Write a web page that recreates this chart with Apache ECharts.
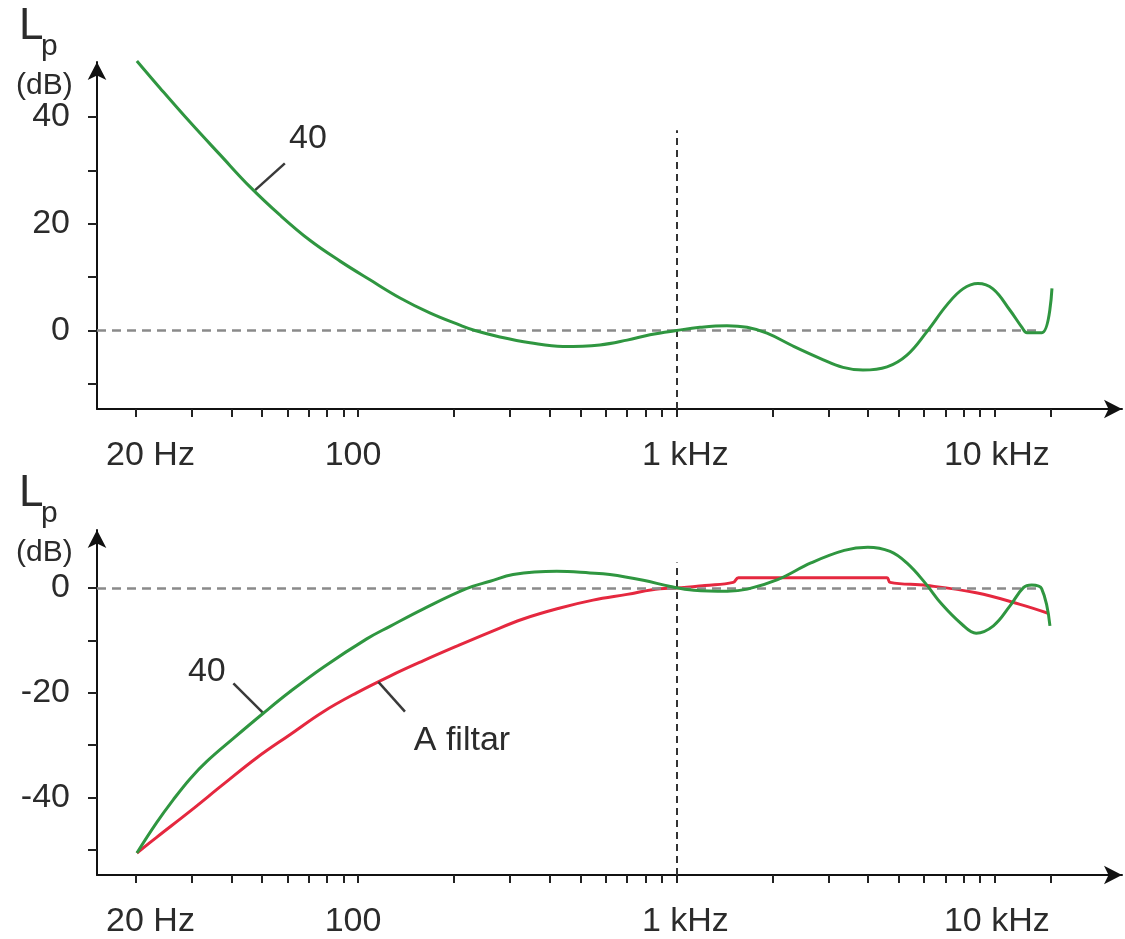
<!DOCTYPE html>
<html>
<head>
<meta charset="utf-8">
<script src="https://cdn.jsdelivr.net/npm/echarts@6/dist/echarts.min.js"></script>
<style>
html,body{margin:0;padding:0;background:#fff;}
#chart{width:1125px;height:939px;}
</style>
</head>
<body>
<div id="chart"></div>
<script>
// ---- data (frequency in Hz, level in dB) ----
const topFreq  = [20.2, 23.9, 29.7, 36.9, 45.8, 56.9, 70.6, 87.8, 109, 135.5, 168, 209, 233, 279, 347, 440, 575, 700, 826, 1000, 1186, 1441, 1666, 1925, 2323, 2824, 3336, 3855, 4586, 5298, 6122, 7075, 7942, 8851, 9866, 11160, 12170, 12620, 14060, 15120];
const topLevel = [50.5, 45.4, 39.0, 32.9, 26.9, 21.6, 16.9, 13.0, 9.5, 6.1, 3.3, 1.0, 0, -1.2, -2.3, -3.0, -2.7, -1.8, -0.8, 0, 0.6, 0.9, 0.6, -0.5, -2.9, -5.2, -6.9, -7.4, -6.8, -4.6, -0.2, 4.8, 7.8, 8.8, 7.8, 3.8, 0.6, -0.4, -0.4, 7.9];

const botFreq  = [20.2, 23.3, 26.3, 29.7, 33.5, 40.6, 50.4, 61.1, 77.8, 106.5, 126, 160, 219, 260, 307, 421, 535, 618, 787, 958, 1134, 1445, 1671, 2078, 2645, 3367, 3990, 4690, 5290, 6040, 6820, 7880, 8740, 9900, 11160, 12300, 13060, 14030, 14900];
const botLevel = [-50.6, -44.8, -40.4, -36.4, -33.1, -28.7, -23.9, -19.8, -15.1, -9.7, -7.3, -4.0, -0.1, 1.3, 2.6, 3.2, 2.9, 2.6, 1.5, 0.3, -0.4, -0.6, -0.2, 1.6, 4.8, 7.2, 7.8, 7.0, 4.8, 1.0, -3.1, -6.9, -8.6, -7.2, -3.4, 0.1, 0.6, -0.1, -7.2];

const aFreq  = [20.2, 23.3, 29.7, 37.7, 48.1, 61.1, 77.8, 99, 126, 160, 204, 260, 330, 431, 547, 700, 888, 1000, 1229, 1508, 1566, 4577, 4690, 6113, 8740, 12000, 14700];
const aLevel = [-50.6, -47.6, -42.6, -37.5, -32.4, -28.0, -23.6, -20.0, -16.8, -13.9, -11.1, -8.4, -5.9, -3.8, -2.3, -1.2, -0.1, 0, 0.5, 1.1, 2.0, 2.0, 1.1, 0.5, -0.9, -3.1, -4.8];

// axis ticks and labels
const xTicks = [20,30,40,50,60,70,80,90,100,200,300,400,500,600,700,800,900,1000,2000,3000,4000,5000,6000,7000,8000,9000,10000,15000];
const xLabelValues = [20, 100, 1000, 10000];
const xLabelTexts  = ['20 Hz', '100', '1 kHz', '10 kHz'];
const xRange = [15.14, 25090];

const topYTicks = [-10, 0, 10, 20, 30, 40];
const topYLabels = [0, 20, 40];
const topYRange = [-14.7, 50.3];
const botYTicks = [-50, -40, -30, -20, -10, 0];
const botYLabels = [-40, -20, 0];
const botYRange = [-54.8, 11.1];

// reference lines
const zeroLineEnd = 14000;
const refFreq = 1000;
const topRefTop = 37.5;
const botRefTop = 4.9;

// annotations: [freq, dB] of leader ends and label centres
const topCurveTag  = {text: '40', at: [69.6, 36.0], leader: [[58.9, 31.3], [47.5, 26.3]]};
const botCurveTag  = {text: '40', at: [33.5, -15.9], leader: [[40.6, -18.2], [50.4, -23.9]]};
const aFilterTag   = {text: 'A filtar', at: [212, -29.1], leader: [[115.8, -17.9], [140.4, -23.6]]};

const zip = (a, b) => a.map((v, i) => [v, b[i]]);

const FONT = '"Liberation Sans", Arial, sans-serif';
const TXT = '#2b2b2b';
const GREEN = '#2f9640';
const RED = '#e5283f';

function xAxisCfg(gridIndex) {
  return {
    type: 'log', logBase: 10, gridIndex, min: xRange[0], max: xRange[1],
    axisLine: {show: true, onZero: false, symbol: ['none', 'arrow'], symbolSize: [14, 18], lineStyle: {color: '#111', width: 2}},
    axisTick: {show: true, customValues: xTicks, length: 8, lineStyle: {color: '#222', width: 2}},
    minorTick: {show: false},
    axisLabel: {
      show: true, customValues: xLabelValues, margin: 30,
      fontFamily: FONT, fontSize: 34, color: TXT,
      formatter: function (v) {
        let idx = 0, best = Infinity;
        xLabelValues.forEach((lv, i) => { const d = Math.abs(Math.log10(lv) - Math.log10(v)); if (d < best) { best = d; idx = i; } });
        return '{l' + idx + '|' + xLabelTexts[idx] + '}';
      },
      rich: {
        l0: {fontFamily: FONT, fontSize: 34, color: TXT, padding: [0, 0, 0, 30]},
        l1: {fontFamily: FONT, fontSize: 34, color: TXT, padding: [0, 10, 0, 0]},
        l2: {fontFamily: FONT, fontSize: 34, color: TXT, padding: [0, 0, 0, 18]},
        l3: {fontFamily: FONT, fontSize: 34, color: TXT, padding: [0, 0, 0, 4]}
      }
    },
    splitLine: {show: false}
  };
}
function yAxisCfg(gridIndex, range, ticks, labels) {
  return {
    type: 'value', gridIndex, min: range[0], max: range[1],
    axisLine: {show: true, onZero: false, symbol: ['none', 'arrow'], symbolSize: [14, 18], lineStyle: {color: '#111', width: 2}},
    axisTick: {show: true, customValues: ticks, length: 9, lineStyle: {color: '#222', width: 2}},
    axisLabel: {show: true, customValues: labels, margin: 27, fontFamily: FONT, fontSize: 34, color: TXT},
    splitLine: {show: false}
  };
}
function leaderLine(tag) {
  return [{coord: tag.leader[0]}, {coord: tag.leader[1]}];
}
function tagSeries(xi, tags) {
  return {
    type: 'scatter', xAxisIndex: xi, yAxisIndex: xi, symbol: 'circle', symbolSize: 2,
    itemStyle: {color: 'rgba(0,0,0,0)', opacity: 1}, silent: true, z: 10,
    data: tags.map(t => ({name: t.text, value: t.at})),
    label: {show: true, position: 'inside', formatter: '{b}', fontFamily: FONT, fontSize: 34, color: TXT, opacity: 1},
    labelLayout: {hideOverlap: false},
    markLine: {
      silent: true, symbol: 'none', label: {show: false},
      lineStyle: {color: '#3a3a3a', width: 2.5, type: 'solid', opacity: 1},
      data: tags.map(leaderLine)
    }
  };
}
function refSeries(xi, yMin, yTop) {
  return {
    type: 'line', xAxisIndex: xi, yAxisIndex: xi, data: [], silent: true, z: 1,
    markLine: {
      silent: true, symbol: 'none', label: {show: false}, animation: false,
      data: [
        [{coord: [xRange[0], 0], lineStyle: {color: '#8a8a8a', width: 2.5, type: [9, 6]}}, {coord: [zeroLineEnd, 0]}],
        [{coord: [refFreq, yMin], lineStyle: {color: '#333', width: 2, type: [7, 5]}}, {coord: [refFreq, yTop]}]
      ]
    }
  };
}

const chart = echarts.init(document.getElementById('chart'), null, {renderer: 'canvas'});
chart.setOption({
  animation: false,
  backgroundColor: '#fff',
  grid: [
    {left: 97, top: 62, width: 1025, height: 347},
    {left: 97, top: 530, width: 1025, height: 348}
  ],
  xAxis: [xAxisCfg(0), xAxisCfg(1)],
  yAxis: [yAxisCfg(0, topYRange, topYTicks, topYLabels), yAxisCfg(1, botYRange, botYTicks, botYLabels)],
  graphic: [
    {type: 'text', left: 19, top: 5, style: {text: 'L', font: '44px ' + FONT, fill: TXT}},
    {type: 'text', left: 41, top: 32, style: {text: 'p', font: '30px ' + FONT, fill: TXT}},
    {type: 'text', left: 16, top: 71, style: {text: '(dB)', font: '30px ' + FONT, fill: TXT}},
    {type: 'text', left: 19, top: 472, style: {text: 'L', font: '44px ' + FONT, fill: TXT}},
    {type: 'text', left: 41, top: 499, style: {text: 'p', font: '30px ' + FONT, fill: TXT}},
    {type: 'text', left: 16, top: 538, style: {text: '(dB)', font: '30px ' + FONT, fill: TXT}}
  ],
  series: [
    refSeries(0, topYRange[0], topRefTop),
    refSeries(1, botYRange[0], botRefTop),
    {type: 'line', name: '40 top', xAxisIndex: 0, yAxisIndex: 0, data: zip(topFreq, topLevel), smooth: 0.4, clip: false, showSymbol: false, z: 5,
     lineStyle: {color: GREEN, width: 3}},
    {type: 'line', name: 'A filtar', xAxisIndex: 1, yAxisIndex: 1, data: zip(aFreq, aLevel), smooth: 0.4, showSymbol: false, z: 4,
     lineStyle: {color: RED, width: 3}},
    {type: 'line', name: '40 bottom', xAxisIndex: 1, yAxisIndex: 1, data: zip(botFreq, botLevel), smooth: 0.4, showSymbol: false, z: 5,
     lineStyle: {color: GREEN, width: 3}},
    tagSeries(0, [topCurveTag]),
    tagSeries(1, [botCurveTag, aFilterTag])
  ]
});
</script>
</body>
</html>
